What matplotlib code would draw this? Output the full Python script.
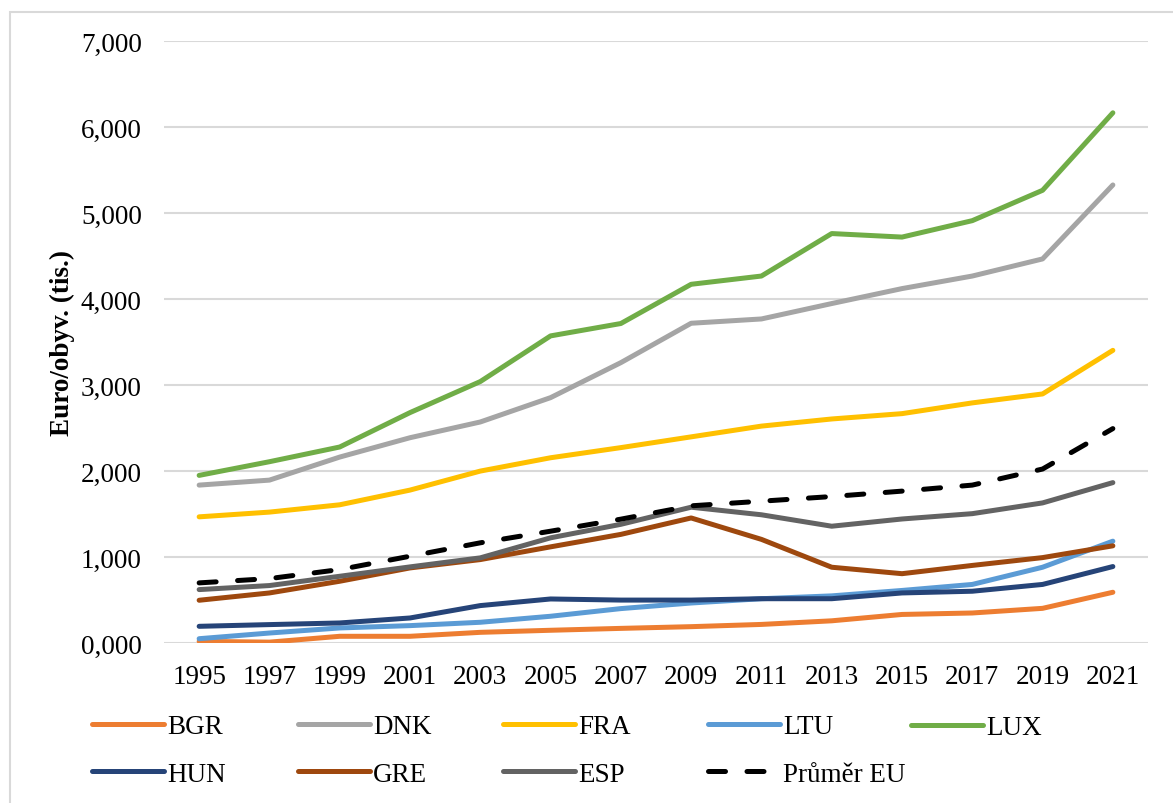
import matplotlib
matplotlib.use("Agg")
import matplotlib.pyplot as plt
from matplotlib.ticker import FuncFormatter
from matplotlib.patches import Rectangle

plt.rcParams['font.family'] = ['Liberation Serif', 'DejaVu Serif']

# Data (tis. Euro / obyv.)
years = [1995, 1997, 1999, 2001, 2003, 2005, 2007, 2009, 2011, 2013, 2015, 2017, 2019, 2021]
bgr = [0.019, 0.010, 0.078, 0.078, 0.124, 0.148, 0.170, 0.190, 0.216, 0.258, 0.332, 0.349, 0.403, 0.590]
dnk = [1.836, 1.894, 2.162, 2.387, 2.570, 2.853, 3.260, 3.718, 3.768, 3.947, 4.121, 4.267, 4.466, 5.326]
fra = [1.467, 1.522, 1.607, 1.778, 1.999, 2.154, 2.272, 2.397, 2.522, 2.605, 2.667, 2.792, 2.896, 3.403]
ltu = [0.050, 0.116, 0.175, 0.202, 0.241, 0.311, 0.400, 0.465, 0.515, 0.548, 0.611, 0.681, 0.881, 1.184]
lux = [1.949, 2.108, 2.279, 2.679, 3.040, 3.571, 3.715, 4.171, 4.267, 4.761, 4.720, 4.911, 5.264, 6.165]
hun = [0.194, 0.214, 0.233, 0.291, 0.435, 0.512, 0.499, 0.499, 0.515, 0.515, 0.582, 0.602, 0.681, 0.889]
gre = [0.497, 0.582, 0.718, 0.873, 0.970, 1.118, 1.263, 1.454, 1.205, 0.881, 0.806, 0.902, 0.993, 1.130]
esp = [0.621, 0.668, 0.776, 0.885, 0.990, 1.223, 1.380, 1.579, 1.491, 1.358, 1.442, 1.504, 1.629, 1.865]
eu_avg = [0.699, 0.749, 0.854, 1.009, 1.165, 1.300, 1.440, 1.595, 1.649, 1.703, 1.766, 1.836, 2.023, 2.493]

series = [
    ("BGR", bgr, "#ED7D31"),
    ("DNK", dnk, "#A5A5A5"),
    ("FRA", fra, "#FFC000"),
    ("LTU", ltu, "#5B9BD5"),
    ("LUX", lux, "#70AD47"),
    ("HUN", hun, "#264478"),
    ("GRE", gre, "#9E480E"),
    ("ESP", esp, "#636363"),
]

FS = 19.5
W, H = 1173, 804
fig = plt.figure(figsize=(W / 100, H / 100), dpi=100)
ax = fig.add_axes([164 / W, 1 - 644 / H, (1148 - 164) / W, (644 - 42) / H])

x = list(range(len(years)))
handles = {}
for name, vals, color in series:
    ln, = ax.plot(x, vals, color=color, lw=3.6, solid_capstyle='round',
                  solid_joinstyle='round', label=name)
    handles[name] = ln
ln, = ax.plot(x, eu_avg, color='black', lw=3.6, linestyle=(0, (3.4, 4.3)),
              dash_capstyle='round', label="Průměr EU")
handles["Průměr EU"] = ln

ax.set_xlim(-0.5, len(years) - 0.5)
ax.set_ylim(0, 7)
ax.set_yticks(range(0, 8))
ax.yaxis.set_major_formatter(FuncFormatter(lambda v, _: f"{v:.3f}".replace('.', ',')))
ax.set_xticks(x)
ax.set_xticklabels([str(y) for y in years])
ax.tick_params(axis='both', length=0, labelsize=FS)
ax.tick_params(axis='x', pad=15)
ax.tick_params(axis='y', pad=16)
ax.grid(axis='y', color='#D9D9D9', lw=1.5)
ax.set_axisbelow(True)
for s in ax.spines.values():
    s.set_visible(False)

ax.set_ylabel("Euro/obyv. (tis.)", fontsize=FS, fontweight='bold')
ax.yaxis.set_label_coords((75 - 164) / 984, 0.5)

# legend in columns, two rows
cols = [["BGR", "HUN"], ["DNK", "GRE"], ["FRA", "ESP"], ["LTU", "Průměr EU"], ["LUX"]]
col_x = [92, 298, 503, 708, 911]
for names, cx in zip(cols, col_x):
    y_mid = 751.5 if len(names) == 2 else 729
    fig.legend([handles[n] for n in names], names, loc='center left',
               bbox_to_anchor=(cx / W, 1 - y_mid / H), frameon=False,
               fontsize=FS, handlelength=2.66, handletextpad=0.12,
               borderpad=0, borderaxespad=0, labelspacing=0.82)

# outer frame of the chart
fig.patches.append(Rectangle((10 / W, -0.05), 1.1, 1 - 13 / H + 0.05,
                             transform=fig.transFigure, fill=False,
                             edgecolor='#D9D9D9', lw=1.5))

fig.savefig("out.png", dpi=100)
